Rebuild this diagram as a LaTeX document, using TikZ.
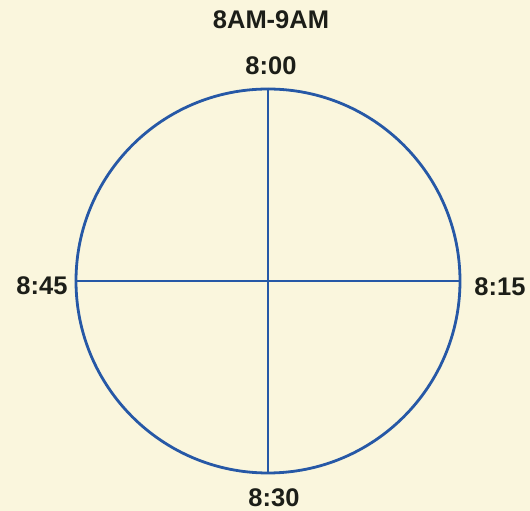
\documentclass[tikz,border=0pt]{standalone}
\usepackage{fontspec}
\setmainfont{Liberation Sans}
\usetikzlibrary{calc}
\definecolor{paper}{RGB}{250,246,221}
\definecolor{ink}{RGB}{38,88,166}
\definecolor{type}{RGB}{28,30,24}
\tikzset{
 dial/.style={circle,draw=ink,line width=2.8pt,minimum size=384pt,inner sep=0},
 hand/.style={draw=ink,line width=2.3pt},
 tick/.style={font=\fontsize{25.5}{28}\selectfont\bfseries,text=type,inner sep=0}
}
\begin{document}
\begin{tikzpicture}[x=1pt,y=1pt]
\fill[paper] (0,0) rectangle (530,511);
\path[use as bounding box] (0,0) rectangle (530,511);
\node[tick] (title) at (271,491) {8AM-9AM};
\node[dial] (face) at (268,230) {};
\draw[hand] (face.north) -- (face.south);
\draw[hand] (face.west) -- (face.east);
\node[tick] (t00) at (271,445) {8:00};
\node[tick] (t15) at (500,224) {8:15};
\node[tick] (t30) at (274,13) {8:30};
\node[tick] (t45) at (42,225) {8:45};
\end{tikzpicture}
\end{document}
